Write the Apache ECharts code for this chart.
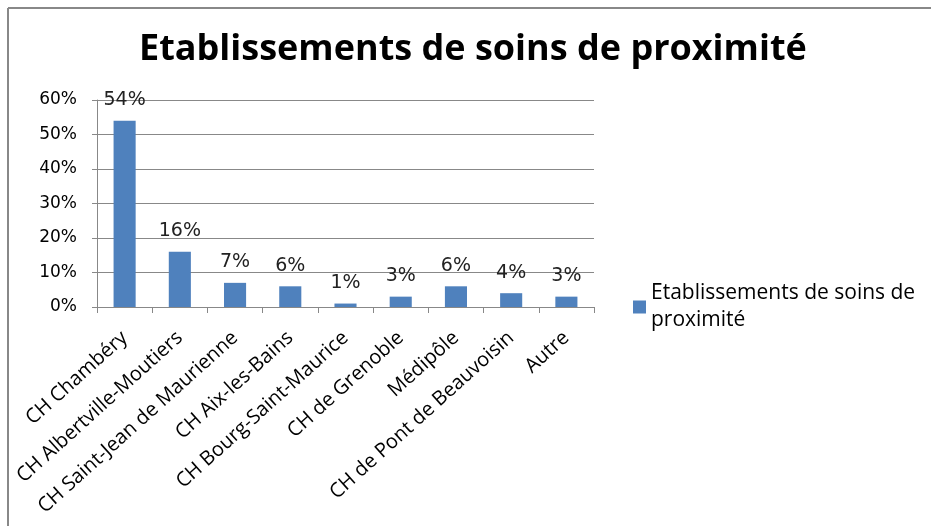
<!DOCTYPE html>
<html><head><meta charset="utf-8">
<script src="https://cdn.jsdelivr.net/npm/echarts@6/dist/echarts.min.js"></script>
<style>html,body{margin:0;padding:0;background:#fff}#c{width:931px;height:526px}</style>
</head><body><div id="c"></div>
<script>
const categories = ["CH Chambéry","CH Albertville-Moutiers","CH Saint-Jean de Maurienne","CH Aix-les-Bains","CH Bourg-Saint-Maurice","CH de Grenoble","Médipôle","CH de Pont de Beauvoisin","Autre"];
const values = [54,16,7,6,1,3,6,4,3];
const seriesName = "Etablissements de soins de proximité";
const chartTitle = "Etablissements de soins de proximité";
const FONT = "'Open Sans', 'Noto Sans', sans-serif";
const NUMFONT = "'DejaVu Sans', sans-serif";
const chart = echarts.init(document.getElementById('c'));
chart.setOption({
  animation:false,
  backgroundColor:'#fff',
  title:{text:chartTitle,left:134,top:27,textStyle:{fontFamily:FONT,fontSize:36,fontWeight:'bold',color:'#000'}},
  grid:{left:97,right:337,top:100,bottom:219,containLabel:false},
  legend:{left:628,top:275,itemWidth:13,itemHeight:13,icon:'rect',itemGap:0,
    formatter:()=>"Etablissements de soins de\nproximité",
    textStyle:{fontFamily:FONT,fontSize:21,color:'#000',lineHeight:27}},
  xAxis:{type:'category',data:categories,
    axisLine:{lineStyle:{color:'#888',width:1}},
    axisTick:{show:true,length:6,lineStyle:{color:'#888'}},
    axisLabel:{rotate:42,interval:0,fontFamily:FONT,fontSize:20,color:'#000',margin:28}},
  yAxis:{type:'value',min:0,max:60,interval:10,
    axisLine:{show:true,lineStyle:{color:'#888'}},
    axisTick:{show:true,length:5,lineStyle:{color:'#888'}},
    splitLine:{lineStyle:{color:'#888',width:1}},
    axisLabel:{formatter:'{value}%',fontFamily:NUMFONT,fontSize:17,color:'#000',margin:20}},
  series:[{name:seriesName,type:'bar',data:values,barWidth:'40%',
    itemStyle:{color:'#4f81bd'},
    label:{show:true,position:'top',distance:11,formatter:'{c}%',fontFamily:NUMFONT,fontSize:19,color:'#222'}}],
  graphic:[
    {type:'line',shape:{x1:8,y1:8,x2:931,y2:8},style:{stroke:'#888',lineWidth:2}},
    {type:'line',shape:{x1:8,y1:8,x2:8,y2:526},style:{stroke:'#888',lineWidth:2}}
  ]
});
</script></body></html>
